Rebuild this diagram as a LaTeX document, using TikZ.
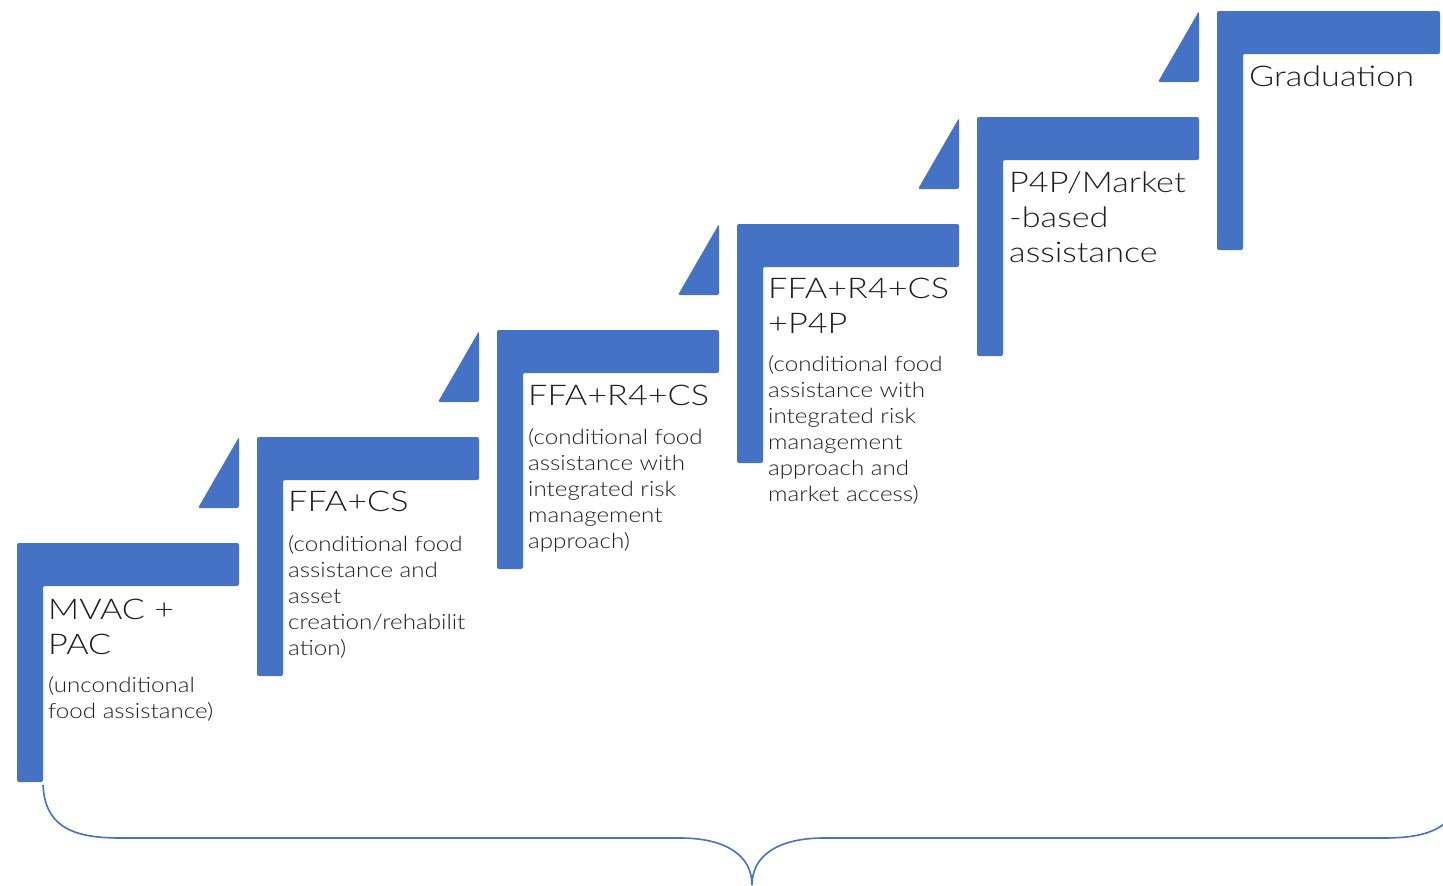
\documentclass[tikz,border=0pt]{standalone}
\usepackage{fontspec}
\setmainfont{Lato Light}
\newfontfamily\ttlfont{Lato Light}[FakeStretch=1.2]
\newfontfamily\dscfont{Lato Light}[FakeStretch=1.15]
\definecolor{stepblue}{HTML}{4472C4}
\definecolor{txt}{HTML}{1E1E1E}
\tikzset{
  stepbar/.style={fill=stepblue, rounded corners=2pt},
  ttl/.style={anchor=north west, inner sep=0pt, align=left, text=txt, font=\ttlfont\fontsize{28.5}{35}\selectfont},
  dsc/.style={anchor=north west, inner sep=0pt, align=left, text=txt, font=\dscfont\fontsize{21}{26}\selectfont},
  bracepath/.style={draw=stepblue, line width=1.6pt}
}
\begin{document}
\begin{tikzpicture}[x=1pt,y=-1pt]
\useasboundingbox (0,0) rectangle (1443,886);
% L-shaped steps and triangles
\foreach \x/\y/\w [count=\i] in {17/543/222, 257/437/222, 497/330/222, 737/224/222, 977/117/222, 1217/11/223}{
  \fill[stepbar] (\x,\y) -- ++(\w,0) -- ++(0,43) -- ++({26-\w},0) -- ++(0,196) -- ++(-26,0) -- cycle;
}
\foreach \x/\y in {17/543, 257/437, 497/330, 737/224, 977/117}{
  \fill[stepbar] ({\x+181},{\y-35}) -- ({\x+222},{\y-35}) -- ({\x+222},{\y-106}) -- cycle;
}
% texts
\node[ttl] (t1) at (48,599) {MVAC +\\PAC};
\node[dsc] (d1) at (48,676) {(unconditional\\food assistance)};
\node[ttl] (t2) at (288,491) {FFA+CS};
\node[dsc] (d2) at (288,535) {(conditional food\\assistance and\\asset\\creation/rehabilit\\ation)};
\node[ttl] (t3) at (528,385) {FFA+R4+CS};
\node[dsc] (d3) at (528,428) {(conditional food\\assistance with\\integrated risk\\management\\approach)};
\node[ttl] (t4) at (768,278) {FFA+R4+CS\\+P4P};
\node[dsc] (d4) at (768,355) {(conditional food\\assistance with\\integrated risk\\management\\approach and\\market access)};
\node[ttl] (t5) at (1009,172) {P4P/Market\\-based\\assistance};
\node[ttl] (t6) at (1249,66) {Graduation};
% brace
\begin{scope}
\clip (0,0) rectangle (1443,886);
\coordinate (bl) at (43,785);
\coordinate (bt) at (752,885);
\coordinate (br) at (1461,785);
\draw[bracepath] (bl) .. controls (45,825) and (70,838) .. (120,838) -- (680,838)
  .. controls (725,838) and (752,855) .. (bt)
  .. controls (752,855) and (779,838) .. (824,838) -- (1384,838)
  .. controls (1434,838) and (1459,825) .. (br);
\end{scope}
\end{tikzpicture}
\end{document}
